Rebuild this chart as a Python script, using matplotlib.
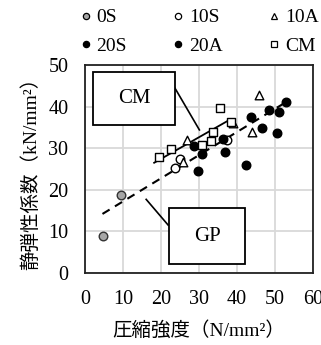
import matplotlib
matplotlib.use("Agg")
import matplotlib.pyplot as plt
from matplotlib.patches import Rectangle
from matplotlib.lines import Line2D

plt.rcParams["font.family"] = ["Liberation Serif", "Noto Sans CJK JP"]

# data
x_0s = [4.8, 9.6]
y_0s = [8.9, 18.7]
x_10s = [23.6, 25.0, 37.3]
y_10s = [25.3, 27.5, 32.0]
x_10a = [25.7, 26.9, 38.9, 43.9, 45.9]
y_10a = [26.8, 32.0, 36.0, 34.0, 42.8]
x_20s = [28.8, 30.7, 29.7, 36.4, 36.8, 42.4]
y_20s = [30.5, 28.5, 24.4, 32.1, 29.2, 26.0]
x_20a = [43.7, 46.7, 48.5, 50.6, 51.1, 52.9]
y_20a = [37.6, 34.9, 39.3, 33.7, 38.8, 41.2]
x_cm = [19.6, 22.6, 30.7, 33.1, 33.6, 35.5, 38.3]
y_cm = [27.8, 29.8, 30.8, 31.8, 34.0, 39.6, 36.4]

# trend lines
cm_line_x = [18.2, 38.2]
cm_line_y = [26.5, 36.9]
gp_line_x = [4.6, 53.3]
gp_line_y = [14.2, 41.3]

xticks = [0, 10, 20, 30, 40, 50, 60]
yticks = [0, 10, 20, 30, 40, 50]

fig = plt.figure(figsize=(3.21, 3.45), dpi=100)
ax = fig.add_axes([85 / 321, 1 - 273 / 345, 228 / 321, 208 / 345])

ax.plot(cm_line_x, cm_line_y, "-", color="black", lw=1.3, zorder=2)
ax.plot(gp_line_x, gp_line_y, "--", color="black", lw=1.5, dashes=(4, 3), zorder=2)

ms = 38
ax.scatter(x_0s, y_0s, s=ms, facecolor="#a6a6a6", edgecolor="#333333", lw=1, zorder=3)
ax.scatter(x_10s, y_10s, s=ms, facecolor="white", edgecolor="black", lw=1, zorder=3)
ax.scatter(x_10a, y_10a, s=ms, marker="^", facecolor="white", edgecolor="black", lw=1, zorder=3)
ax.scatter(x_20s, y_20s, s=ms, facecolor="black", edgecolor="black", lw=1, zorder=3)
ax.scatter(x_20a, y_20a, s=ms, facecolor="black", edgecolor="black", lw=1, zorder=3)
ax.scatter(x_cm, y_cm, s=ms, marker="s", facecolor="white", edgecolor="black", lw=1, zorder=3)

# callout boxes
ax.plot([23.7, 30.1], [44.4, 34.4], color="black", lw=1.2, zorder=2)
ax.add_patch(Rectangle((2.2, 35.5), 21.5, 12.9, facecolor="white", edgecolor="black",
                       lw=1.3, zorder=4, clip_on=False))
ax.text(12.95, 41.9, "CM", ha="center", va="center", fontsize=15, zorder=5)

ax.plot([16.1, 21.9], [17.7, 11.5], color="black", lw=1.2, zorder=2)
ax.add_patch(Rectangle((22.2, 2.2), 19.9, 13.4, facecolor="white", edgecolor="black",
                       lw=1.3, zorder=4, clip_on=False))
ax.text(32.15, 8.7, "GP", ha="center", va="center", fontsize=15, zorder=5)

ax.set_xlim(0, 60)
ax.set_ylim(0, 50)
ax.set_xticks(xticks)
ax.set_yticks(yticks)
ax.tick_params(length=0, labelsize=14.5)
ax.tick_params(axis="x", pad=12)
ax.tick_params(axis="y", pad=12)
ax.grid(color="#d9d9d9", lw=1.3)
ax.set_axisbelow(True)
for sp in ax.spines.values():
    sp.set_linewidth(1.3)
    sp.set_color("#222222")

ax.set_xlabel("圧縮強度（N/mm²）", fontsize=14, labelpad=9)
ax.set_ylabel("静弾性係数（kN/mm²）", fontsize=14, labelpad=6)

# legend (row-major order via column-first fill)
def mk(marker, fc):
    return Line2D([], [], ls="none", marker=marker, markersize=4.5,
                  markerfacecolor=fc, markeredgecolor="black", markeredgewidth=0.9)

handles = [mk("o", "#a6a6a6"), mk("o", "black"), mk("o", "white"),
           mk("o", "black"), mk("^", "white"), mk("s", "white")]
labels = ["0S", "20S", "10S", "20A", "10A", "CM"]
fig.legend(handles, labels, ncol=3, loc="upper left", bbox_to_anchor=(72 / 321, 1.0),
           frameon=False, fontsize=14, handlelength=0.5, handletextpad=0.3,
           columnspacing=2.4, labelspacing=0.55, borderaxespad=0.05)

fig.savefig("out.png", dpi=100)
